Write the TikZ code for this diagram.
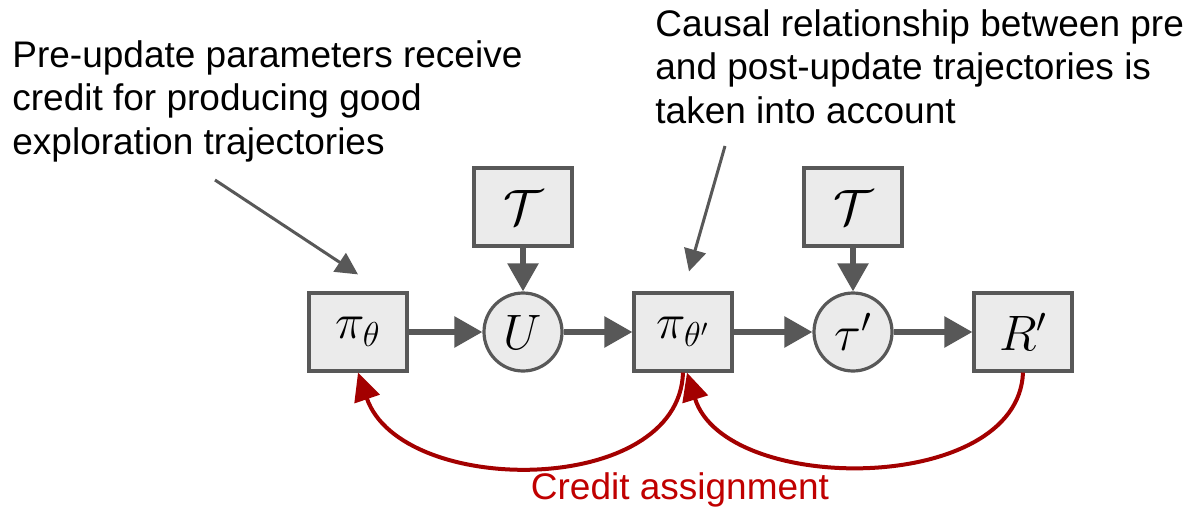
\documentclass[tikz,border=0pt]{standalone}
\usepackage{amsmath}
\usepackage{fontspec}
\setmainfont{Liberation Sans}
\usetikzlibrary{arrows.meta, positioning}

\definecolor{nodegray}{HTML}{585858}
\definecolor{fillgray}{HTML}{EBEBEB}
\definecolor{creditred}{HTML}{A30000}
\definecolor{labelred}{HTML}{C00000}

\begin{document}
\begin{tikzpicture}[
        x=0.5pt, y=-0.5pt,
        var/.style={draw=nodegray, fill=fillgray, line width=1.6pt, rectangle, minimum width=49pt, minimum height=39pt, inner sep=0pt, font=\fontsize{25}{29}\selectfont},
        rv/.style={draw=nodegray, fill=fillgray, line width=1.6pt, circle, minimum size=39pt, inner sep=0pt, font=\fontsize{25}{29}\selectfont},
        flow/.style={-{Triangle[length=14pt, width=15pt]}, line width=2.8pt, draw=nodegray},
        note/.style={-{Triangle[length=11pt, width=11pt]}, line width=1.5pt, draw=nodegray},
        credit/.style={-{Triangle[length=14pt, width=13pt]}, line width=2pt, draw=creditred},
        txt/.style={font=\fontsize{18.5}{21.7}\selectfont, align=left, inner sep=0pt}
    ]
        \useasboundingbox (0,0) rectangle (1193,508);

        % --- Grafo ---
        \node[var] (pi)    at (358, 332)  {$\pi_\theta$};
        \node[rv]  (upd)   at (523, 332)  {$U$};
        \node[var] (pinew) at (683, 332)  {$\pi_{\theta'}$};
        \node[rv]  (traj)  at (853, 332)  {$\tau'$};
        \node[var] (rew)   at (1023, 332) {$R'$};
        \node[var] (taskA) at (523, 207)  {$\mathcal{T}$};
        \node[var] (taskB) at (853, 207)  {$\mathcal{T}$};

        \draw[flow] (pi) -- (upd);
        \draw[flow] (upd) -- (pinew);
        \draw[flow] (pinew) -- (traj);
        \draw[flow] (traj) -- (rew);
        \draw[flow] (taskA) -- (upd);
        \draw[flow] (taskB) -- (traj);

        % --- Notas ---
        \node[txt, anchor=north west] (preNote) at (12, 40)
            {Pre-update parameters receive\\credit for producing good\\exploration trajectories};
        \node[txt, anchor=north west] (causalNote) at (655, 9)
            {Causal relationship between pre\\and post-update trajectories is\\taken into account};
        \coordinate (noteA) at (215, 180);
        \coordinate (noteB) at (725, 146);
        \draw[note] (noteA) -- ([yshift=8.5pt]pi.north);
        \draw[note] (noteB) -- ([xshift=3pt, yshift=10pt]pinew.north);

        % --- Credit assignment ---
        \draw[credit] (pinew.south) .. controls +(-4,125) and +(43,125) .. (pi.south);
        \draw[credit] (rew.south) .. controls +(-5,123) and +(38,123) .. ([xshift=2pt]pinew.south);
        \node[txt, text=labelred, anchor=base] (creditLbl) at (680, 499) {Credit assignment};

    \end{tikzpicture}
\end{document}
